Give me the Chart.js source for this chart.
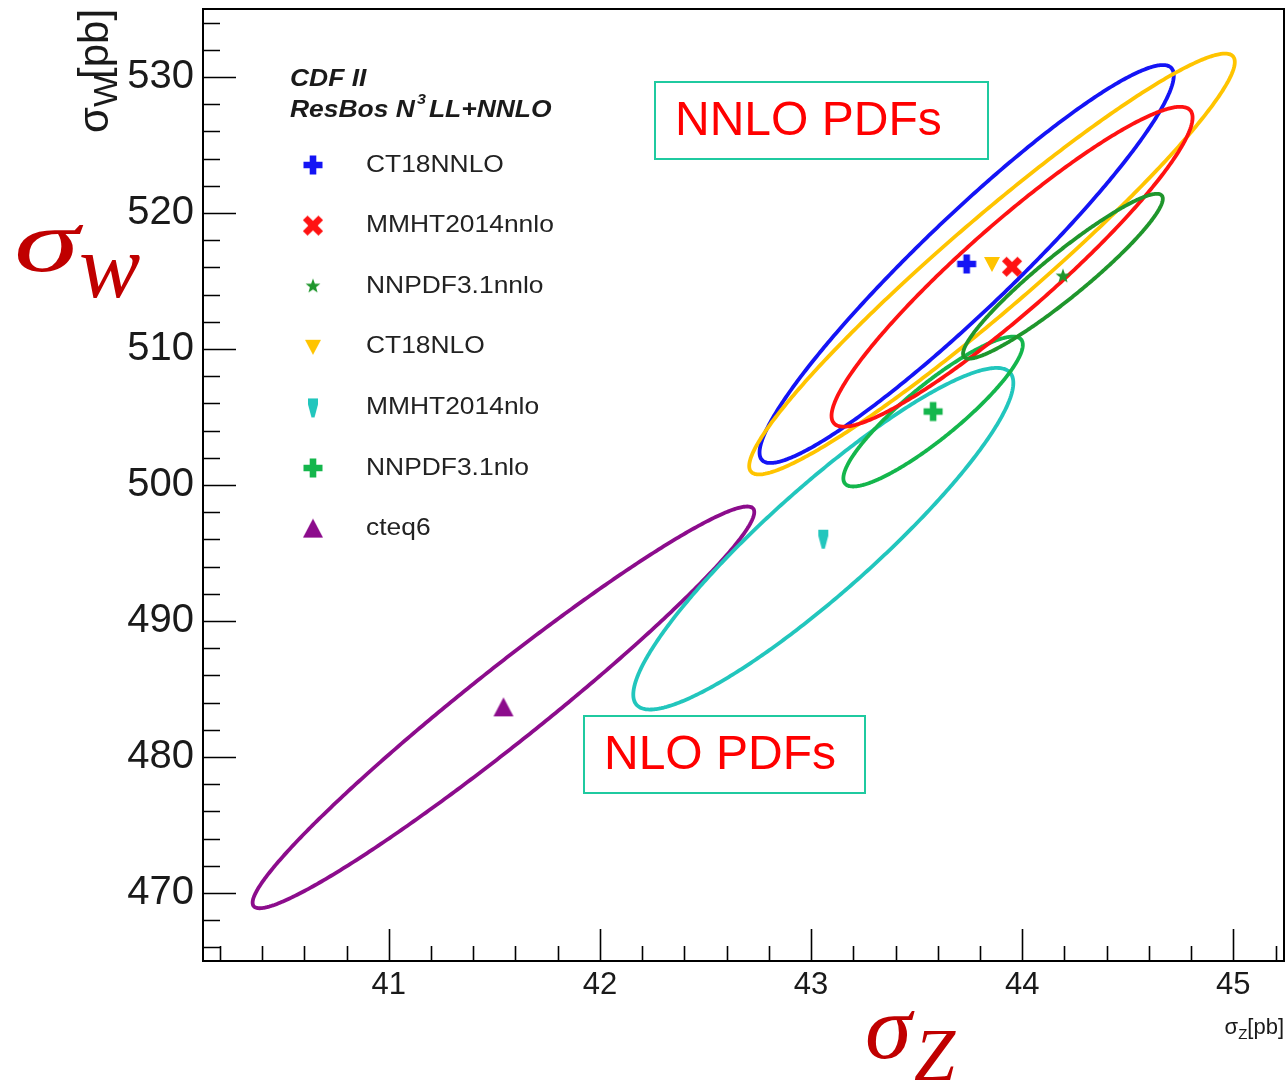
<!DOCTYPE html>
<html><head><meta charset="utf-8">
<script src="https://cdn.jsdelivr.net/npm/chart.js@4.4.0/dist/chart.umd.min.js"></script>
<style>html,body{margin:0;padding:0;background:#fff;}canvas{display:block;}</style>
</head><body>
<canvas id="c" width="1286" height="1081"></canvas>
<script>
// ---- data ----
const pdfNames = ['CT18NNLO', 'MMHT2014nnlo', 'NNPDF3.1nnlo', 'CT18NLO', 'MMHT2014nlo', 'NNPDF3.1nlo', 'cteq6'];
const sigmaZ = [43.737, 43.952, 44.193, 43.857, 43.058, 43.578, 41.543];   // pb, centre
const sigmaW = [516.25, 516.05, 515.35, 516.25, 496.05, 505.40, 483.65];   // pb, centre
const errZ   = [0.981, 0.855, 0.473, 1.150, 0.900, 0.425, 1.188];          // half extent in sigma_Z
const errW   = [14.63, 11.76, 6.06, 15.47, 12.56, 5.51, 14.77];            // half extent in sigma_W
const corr   = [0.947, 0.932, 0.940, 0.960, 0.912, 0.890, 0.972];          // correlation
const colors = ['#1414f5', '#ff1212', '#1f962c', '#ffc400', '#22c6bd', '#14b64c', '#8c0c8c'];
const markers = ['cross', 'xcross', 'star', 'triDown', 'drop', 'cross', 'triUp'];
const xTickLabels = ['41', '42', '43', '44', '45'];
const yTickLabels = ['470', '480', '490', '500', '510', '520', '530'];
const legendHeader = ['CDF II', 'ResBos N', '3', 'LL+NNLO'];
const boxLabels = ['NNLO PDFs', 'NLO PDFs'];

const SANS = '"Liberation Sans", Arial, Helvetica, sans-serif';
const SERIF = '"Liberation Serif", "Times New Roman", serif';

function makeMarker(kind, color) {
  const s = 26, cv = document.createElement('canvas');
  cv.width = s; cv.height = s;
  const g = cv.getContext('2d');
  g.fillStyle = color; g.translate(s / 2, s / 2);
  g.beginPath();
  const plus = (a, t) => {
    g.moveTo(-t, -a); g.lineTo(t, -a); g.lineTo(t, -t); g.lineTo(a, -t); g.lineTo(a, t); g.lineTo(t, t);
    g.lineTo(t, a); g.lineTo(-t, a); g.lineTo(-t, t); g.lineTo(-a, t); g.lineTo(-a, -t); g.lineTo(-t, -t); g.closePath();
  };
  if (kind === 'cross') plus(9.5, 3.3);
  else if (kind === 'xcross') { g.rotate(Math.PI / 4); plus(11, 3.3); }
  else if (kind === 'star') {
    for (let i = 0; i < 10; i++) {
      const r = i % 2 ? 3.2 : 7.8, a = -Math.PI / 2 + i * Math.PI / 5;
      i ? g.lineTo(r * Math.cos(a), r * Math.sin(a)) : g.moveTo(r * Math.cos(a), r * Math.sin(a));
    }
    g.closePath();
  }
  else if (kind === 'triDown') { g.moveTo(-8, -7); g.lineTo(8, -7); g.lineTo(0, 8); g.closePath(); }
  else if (kind === 'drop') { g.moveTo(-5, -9); g.lineTo(5, -9); g.lineTo(5, -3); g.lineTo(1.5, 10); g.lineTo(-1.5, 10); g.lineTo(-5, -3); g.closePath(); }
  else if (kind === 'triUp') { g.moveTo(0, -10); g.lineTo(10, 9); g.lineTo(-10, 9); g.closePath(); }
  g.fill();
  return cv;
}
const markerImgs = markers.map((m, i) => makeMarker(m, colors[i]));

function ellipse(i) {
  const pts = [];
  const n = 240, k = Math.sqrt(1 - corr[i] * corr[i]);
  for (let j = 0; j <= n; j++) {
    const t = 2 * Math.PI * j / n;
    pts.push({ x: sigmaZ[i] + errZ[i] * Math.cos(t), y: sigmaW[i] + errW[i] * (corr[i] * Math.cos(t) + k * Math.sin(t)) });
  }
  return pts;
}

const drawOrder = [2, 1, 3, 0, 5, 4, 6];
const datasets = [];
drawOrder.forEach(i => datasets.push({
  label: pdfNames[i] + ' ellipse', data: ellipse(i), showLine: true, fill: false,
  borderColor: colors[i], borderWidth: 3.8, pointRadius: 0, tension: 0.1,
  borderJoinStyle: 'round', borderCapStyle: 'round'
}));
pdfNames.forEach((name, i) => datasets.unshift({
  label: name, data: [{ x: sigmaZ[i], y: sigmaW[i] }], showLine: false,
  pointStyle: markerImgs[i], pointRadius: 10, backgroundColor: colors[i], borderColor: colors[i]
}));

function isMult(v, step) { return Math.abs(v / step - Math.round(v / step)) < 1e-6; }
function tickList(from, to, step) { const out = []; for (let k = 0; from + k * step <= to + 1e-9; k++) out.push({ value: +(from + k * step).toFixed(4) }); return out; }
function noPad(s) {
  s.paddingLeft = 0; s.paddingRight = 0; s.paddingTop = 0; s.paddingBottom = 0;
}

function stretchText(ctx, txt, x, y, sx) {
  ctx.save(); ctx.translate(x, y); ctx.scale(sx, 1); ctx.fillText(txt, 0, 0); ctx.restore();
  return ctx.measureText(txt).width * sx;
}

const decor = {
  id: 'decor',
  afterDraw(chart) {
    const ctx = chart.ctx, a = chart.chartArea, xs = chart.scales.x, ys = chart.scales.y;
    ctx.save();
    // frame
    ctx.strokeStyle = '#000'; ctx.lineWidth = 2;
    ctx.strokeRect(a.left, a.top, a.right - a.left, a.bottom - a.top);
    // inward ticks
    ctx.lineWidth = 1.6;
    ctx.beginPath();
    xs.ticks.forEach(t => {
      const px = Math.round(xs.getPixelForValue(t.value)) + 0.5;
      const len = isMult(t.value, 1) ? 32 : 15;
      ctx.moveTo(px, a.bottom); ctx.lineTo(px, a.bottom - len);
    });
    ys.ticks.forEach(t => {
      const py = Math.round(ys.getPixelForValue(t.value)) + 0.5;
      const len = isMult(t.value, 10) ? 33 : 17;
      ctx.moveTo(a.left, py); ctx.lineTo(a.left + len, py);
    });
    ctx.stroke();

    // legend header
    ctx.fillStyle = '#1a1a1a'; ctx.textBaseline = 'alphabetic'; ctx.textAlign = 'left';
    const HS = 1.15;
    ctx.font = 'italic bold 23px ' + SANS;
    stretchText(ctx, legendHeader[0], 290, 86, HS);
    let x = 290;
    x += stretchText(ctx, legendHeader[1], x, 117, HS) + 2;
    ctx.font = 'italic bold 14px ' + SANS;
    x += stretchText(ctx, legendHeader[2], x, 104, HS) + 3;
    ctx.font = 'italic bold 23px ' + SANS;
    stretchText(ctx, legendHeader[3], x, 117, HS);
    // legend entries
    ctx.font = '24px ' + SANS; ctx.textBaseline = 'middle'; ctx.fillStyle = '#222';
    pdfNames.forEach((name, i) => {
      const yy = 165 + i * 60.6;
      const img = markerImgs[i];
      ctx.drawImage(img, 313 - img.width / 2, yy - img.height / 2);
      stretchText(ctx, name, 366, yy, 1.1);
    });

    // y title rotated
    ctx.fillStyle = '#1a1a1a'; ctx.textBaseline = 'alphabetic';
    ctx.save();
    ctx.translate(108, 133); ctx.rotate(-Math.PI / 2);
    ctx.font = '42px ' + SANS; ctx.fillText('σ', 0, 0);
    let tx = ctx.measureText('σ').width;
    ctx.font = '34px ' + SANS; ctx.fillText('W', tx, 9); tx += ctx.measureText('W').width - 4;
    ctx.font = '42px ' + SANS; ctx.fillText('[pb]', tx, 0);
    ctx.restore();
    // x title
    ctx.font = '22px ' + SANS;
    const w1 = ctx.measureText('σ').width, w3 = ctx.measureText('[pb]').width;
    ctx.font = '15px ' + SANS; const w2 = ctx.measureText('Z').width;
    let sx = 1284 - (w1 + w2 + w3);
    ctx.font = '22px ' + SANS; ctx.fillText('σ', sx, 1034); sx += w1;
    ctx.font = '15px ' + SANS; ctx.fillText('Z', sx, 1039); sx += w2;
    ctx.font = '22px ' + SANS; ctx.fillText('[pb]', sx, 1034);

    // annotation boxes
    ctx.strokeStyle = '#1fcaa0'; ctx.lineWidth = 2;
    ctx.strokeRect(655, 82, 333, 77);
    ctx.strokeRect(584, 716, 281, 77);
    ctx.fillStyle = '#ff0000'; ctx.font = '48px ' + SANS; ctx.textBaseline = 'middle';
    ctx.fillText(boxLabels[0], 675, 122);
    ctx.fillText(boxLabels[1], 604, 756);

    // big red symbols
    ctx.fillStyle = '#c00000'; ctx.textBaseline = 'alphabetic';
    ctx.font = 'italic 88px ' + SERIF;
    stretchText(ctx, 'σ', 14, 271, 1.5);
    ctx.font = 'italic 92px ' + SERIF;
    stretchText(ctx, 'w', 79, 297, 1.0);
    ctx.font = 'italic 90px ' + SERIF;
    stretchText(ctx, 'σ', 865, 1058, 1.05);
    ctx.font = 'italic 74px ' + SERIF;
    ctx.fillText('Z', 914, 1080);
    ctx.restore();
  }
};

new Chart(document.getElementById('c'), {
  type: 'scatter',
  data: { datasets },
  options: {
    responsive: false, animation: false, devicePixelRatio: 1,
    layout: { autoPadding: false, padding: { top: 9, right: 2, left: 0, bottom: 0 } },
    plugins: { legend: { display: false }, tooltip: { enabled: false } },
    scales: {
      x: {
        type: 'linear', min: 40.12, max: 45.24,
        grid: { display: false, drawTicks: false }, border: { display: false },
        ticks: {
          autoSkip: false, maxRotation: 0, minRotation: 0, padding: 6,
          color: '#1a1a1a', font: { family: SANS, size: 31 },
          callback: v => { const k = Math.round(v) - 41; return isMult(v, 1) && xTickLabels[k] ? xTickLabels[k] : ''; }
        },
        afterBuildTicks: s => { s.ticks = tickList(40.2, 45.2, 0.2); },
        afterFit: s => { s.height = 120; noPad(s); }
      },
      y: {
        type: 'linear', min: 465, max: 535,
        grid: { display: false, drawTicks: false }, border: { display: false },
        ticks: {
          autoSkip: false, padding: 9,
          color: '#1a1a1a', font: { family: SANS, size: 40 },
          callback: v => { const k = Math.round((v - 470) / 10); return isMult(v, 10) && yTickLabels[k] ? yTickLabels[k] : ''; }
        },
        afterBuildTicks: s => { s.ticks = tickList(466, 534, 2); },
        afterFit: s => { s.width = 203; noPad(s); }
      }
    }
  },
  plugins: [decor]
});
</script>
</body></html>
